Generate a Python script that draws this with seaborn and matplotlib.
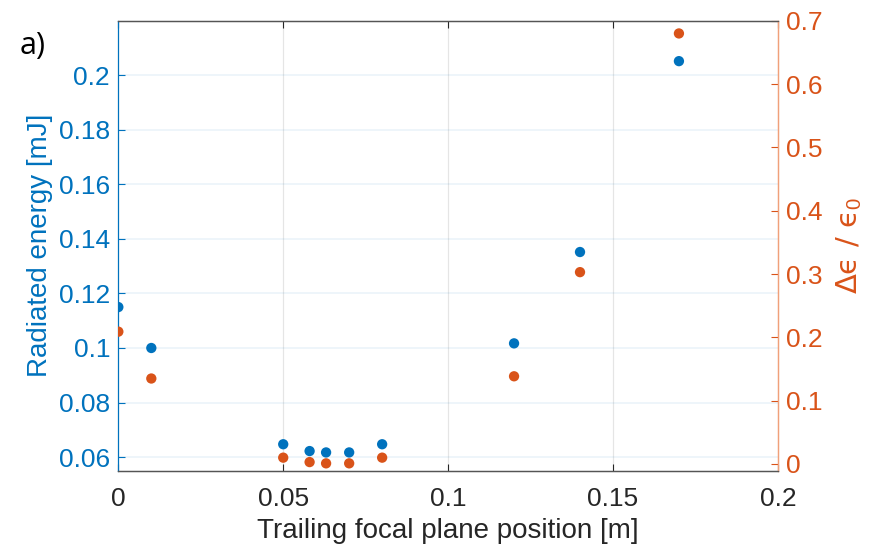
import matplotlib
matplotlib.use("Agg")
import matplotlib.pyplot as plt
import seaborn as sns
import numpy as np

# Data
x_pos = [0.0, 0.01, 0.05, 0.058, 0.063, 0.07, 0.08, 0.12, 0.14, 0.17]
radiated_energy = [0.115, 0.100, 0.0647, 0.0622, 0.0617, 0.0617, 0.0647, 0.1017, 0.1352, 0.2052]
delta_eps = [0.209, 0.135, 0.010, 0.003, 0.001, 0.001, 0.010, 0.1385, 0.303, 0.680]

x_ticks = [0, 0.05, 0.1, 0.15, 0.2]
x_ticklabels = ["0", "0.05", "0.1", "0.15", "0.2"]
left_ticks = [0.06, 0.08, 0.1, 0.12, 0.14, 0.16, 0.18, 0.2]
left_ticklabels = ["0.06", "0.08", "0.1", "0.12", "0.14", "0.16", "0.18", "0.2"]
right_ticks = [0, 0.1, 0.2, 0.3, 0.4, 0.5, 0.6, 0.7]
right_ticklabels = ["0", "0.1", "0.2", "0.3", "0.4", "0.5", "0.6", "0.7"]

BLUE = "#0072BD"
ORANGE = "#D95319"
DARK = "#262626"

sns.set_theme(style="white")
plt.rcParams["font.family"] = ["Liberation Sans", "DejaVu Sans"]
plt.rcParams["mathtext.fontset"] = "custom"
plt.rcParams["mathtext.rm"] = "Liberation Sans"

fig = plt.figure(figsize=(8.74, 5.47), dpi=100)
ax = fig.add_axes([0.1354, 0.1395, 0.89 - 0.1354, 0.962 - 0.1395])
ax2 = ax.twinx()

FS = 19

sns.scatterplot(x=x_pos, y=radiated_energy, ax=ax, color=BLUE, s=55,
                edgecolor="none", marker="o", zorder=3)
sns.scatterplot(x=x_pos, y=delta_eps, ax=ax2, color=ORANGE, s=55,
                edgecolor="none", marker="o", zorder=3)

ax.set_xlim(0, 0.2)
ax.set_ylim(0.055, 0.22)
ax2.set_ylim(-0.0106, 0.7)

ax.set_xticks(x_ticks)
ax.set_xticklabels(x_ticklabels)
ax.set_yticks(left_ticks)
ax.set_yticklabels(left_ticklabels)
ax2.set_yticks(right_ticks)
ax2.set_yticklabels(right_ticklabels)

# Grid
for xv in x_ticks[1:-1]:
    ax.axvline(xv, color="#000000", alpha=0.1, lw=0.9, zorder=0)
for yv in left_ticks:
    ax.axhline(yv, color=BLUE, alpha=0.08, lw=1.2, zorder=0)

ax.tick_params(axis="x", direction="in", length=5, width=0.8, colors=DARK,
               labelsize=FS, pad=12, top=True, bottom=True)
ax.tick_params(axis="y", direction="in", length=5, width=0.8, colors=BLUE,
               labelsize=FS, pad=6)
ax2.tick_params(axis="y", direction="in", length=5, width=0.8, colors=ORANGE,
                labelsize=FS, pad=6)

for a in (ax, ax2):
    a.spines["top"].set_color("#555555")
    a.spines["bottom"].set_color("#555555")
    a.spines["left"].set_color(BLUE)
    a.spines["right"].set_color("#F0A07A")
    for s in a.spines.values():
        s.set_linewidth(0.9)
ax2.spines["left"].set_visible(False)

ax.set_xlabel("Trailing focal plane position [m]", fontsize=20, color=DARK, labelpad=5)
ax.set_ylabel("Radiated energy [mJ]", fontsize=20, color=BLUE, labelpad=4)
ax2.set_ylabel("Δϵ / ϵ$_{0}$", fontsize=21, color=ORANGE, labelpad=8,
               family=["DejaVu Sans"])

fig.text(0.022, 0.915, "a)", fontsize=22, color="black", ha="left", va="center",
         family=["Open Sans", "DejaVu Sans"])

fig.savefig("out.png", dpi=100)
